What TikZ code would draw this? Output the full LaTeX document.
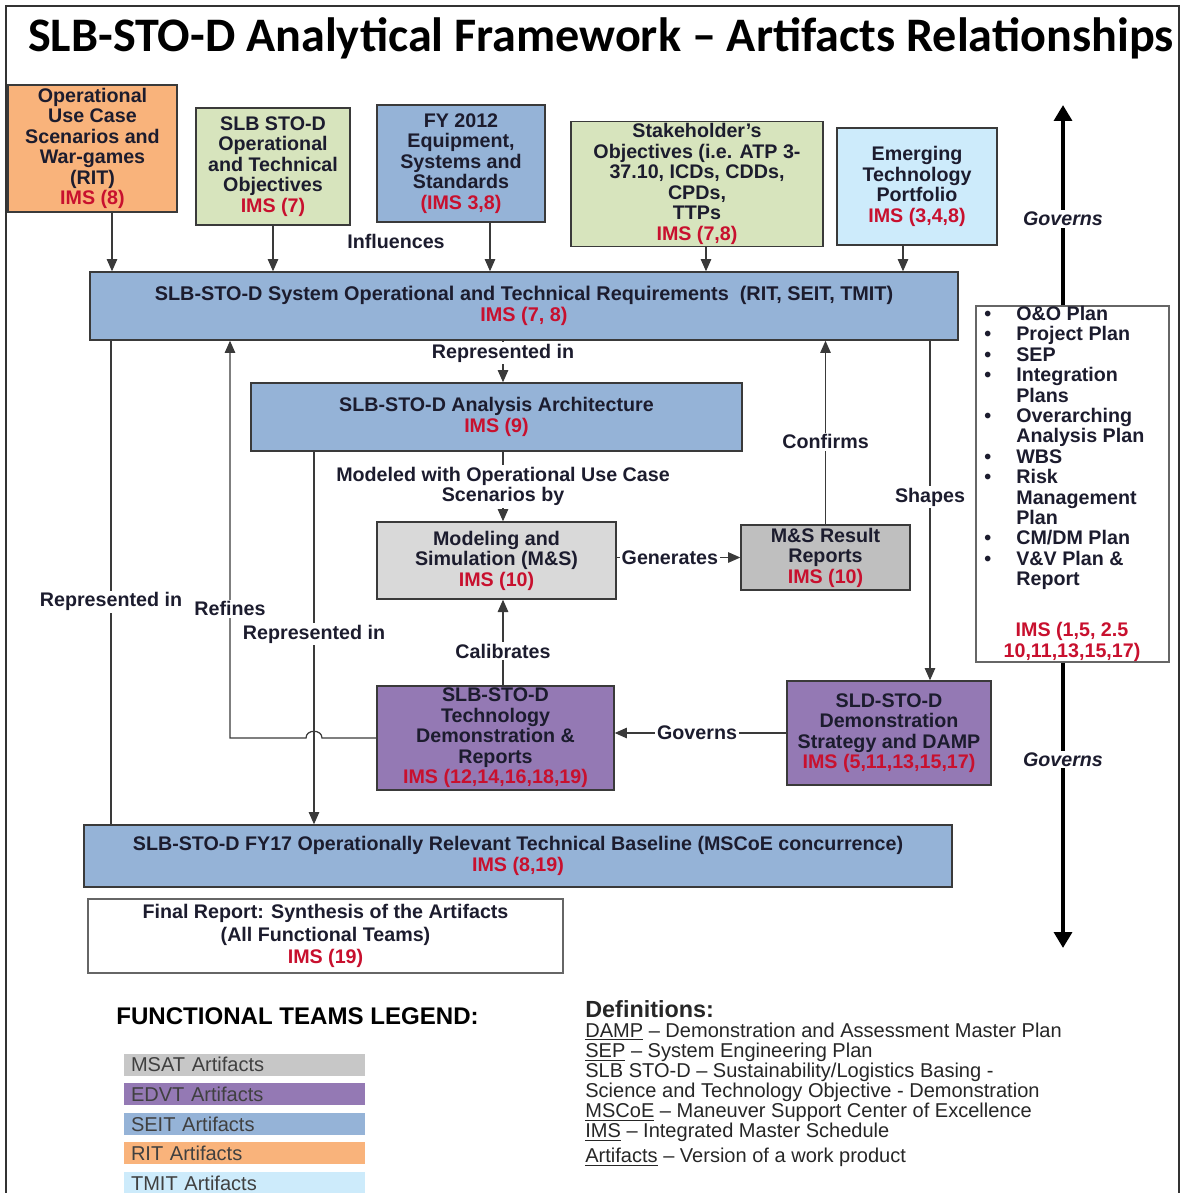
\documentclass[tikz,border=0pt]{standalone}
\usepackage{fontspec}
\setmainfont{Liberation Sans}
\newfontfamily\titlefont{Carlito}
\usetikzlibrary{
    arrows.meta,
    positioning,
    calc
}

\definecolor{ritorange}{HTML}{F9B37B}
\definecolor{objgreen}{HTML}{D7E4BD}
\definecolor{seitblue}{HTML}{95B3D7}
\definecolor{tmitblue}{HTML}{CDEBFB}
\definecolor{edvtpurple}{HTML}{9479B4}
\definecolor{msatgray}{HTML}{D9D9D9}
\definecolor{resgray}{HTML}{BFBFBF}
\definecolor{imsred}{HTML}{C8102E}
\definecolor{inktext}{HTML}{1C1C2E}
\definecolor{linegray}{HTML}{3A3A3A}

\newcommand{\ims}[1]{\textcolor{imsred}{#1}}
\newcommand{\planbullet}{\makebox[0.64cm][l]{\textbullet}}

\begin{document}
\begin{tikzpicture}[x=0.02cm, y=-0.02cm,
    box/.style={draw=linegray, line width=0.8pt, align=center, inner sep=1pt, text=inktext,
        font=\fontsize{11.2}{11.7}\selectfont\bfseries},
    conn/.style={draw=linegray, line width=0.7pt},
    arr/.style={conn, -{Triangle[width=6pt, length=7pt]}},
    lbl/.style={fill=white, inner sep=1pt, align=center, text=inktext,
        font=\fontsize{11.2}{11.7}\selectfont\bfseries},
    govlbl/.style={lbl, font=\fontsize{11.2}{11.7}\selectfont\bfseries\itshape},
    govarrow/.style={draw=black, line width=2.3pt, -{Triangle[width=10pt, length=9pt]}},
    legbar/.style={minimum width=4.82cm, minimum height=0.44cm, inner xsep=0.14cm, inner ysep=0pt,
        text width=4.54cm, align=left, text=black!75, font=\fontsize{11.4}{12}\selectfont}
]
    \useasboundingbox (0,0) rectangle (1184,1193);
    \clip (0,0) rectangle (1184,1193);

    % frame and title
    \draw[line width=1.2pt, black!80] (6,1200) -- (6,6) -- (1179,6) -- (1179,1200);
    \node[font=\titlefont\bfseries\fontsize{27.4}{31}\selectfont] (title) at (601,38)
        {SLB-STO-D Analytical Framework – Artifacts Relationships};

    % input artifacts
    \node[box, fill=ritorange, minimum width=3.38cm, minimum height=2.54cm] (rit) at (92.5,148.5)
        {Operational\\Use Case\\Scenarios and\\War-games\\(RIT)\\\ims{IMS (8)}};
    \node[box, fill=objgreen, minimum width=3.08cm, minimum height=2.34cm] (sto) at (273,166.5)
        {SLB STO-D\\Operational\\and Technical\\Objectives\\\ims{IMS (7)}};
    \node[box, fill=seitblue, minimum width=3.36cm, minimum height=2.34cm] (fy) at (461,163.5)
        {FY 2012\\Equipment,\\Systems and\\Standards\\\ims{(IMS 3,8)}};
    \node[box, fill=objgreen, minimum width=5.04cm, minimum height=2.36cm] (stake) at (697,184)
        {Stakeholder's\\Objectives (i.e. ATP 3-\\37.10, ICDs, CDDs,\\CPDs,\\TTPs\\\ims{IMS (7,8)}};
    \node[box, fill=tmitblue, minimum width=3.2cm, minimum height=2.34cm] (emerg) at (917,186.5)
        {Emerging\\Technology\\Portfolio\\\ims{IMS (3,4,8)}};

    % requirements and architecture
    \node[box, fill=seitblue, minimum width=17.36cm, minimum height=1.36cm,
        font=\fontsize{11.3}{11.7}\selectfont\bfseries] (req) at (524,306)
        {SLB-STO-D System Operational and Technical Requirements~~(RIT, SEIT, TMIT)\\\ims{IMS (7, 8)}};
    \node[box, fill=seitblue, minimum width=9.82cm, minimum height=1.36cm] (arch) at (496.5,417)
        {SLB-STO-D Analysis Architecture\\\ims{IMS (9)}};

    % modeling and demonstration
    \node[box, fill=msatgray, minimum width=4.78cm, minimum height=1.54cm] (ms) at (496.5,560.5)
        {Modeling and\\Simulation (M\&S)\\\ims{IMS (10)}};
    \node[box, fill=resgray, minimum width=3.38cm, minimum height=1.3cm] (res) at (825.5,557.5)
        {M\&S Result\\Reports\\\ims{IMS (10)}};
    \node[box, fill=edvtpurple, minimum width=4.74cm, minimum height=2.08cm] (tech) at (495.5,738)
        {SLB-STO-D\\Technology\\Demonstration \&\\Reports\\\ims{IMS (12,14,16,18,19)}};
    \node[box, fill=edvtpurple, minimum width=4.08cm, minimum height=2.08cm] (sld) at (889,733)
        {SLD-STO-D\\Demonstration\\Strategy and DAMP\\\ims{IMS (5,11,13,15,17)}};

    % baseline and final report
    \node[box, fill=seitblue, minimum width=17.36cm, minimum height=1.24cm] (base) at (518,856)
        {SLB-STO-D FY17 Operationally Relevant Technical Baseline (MSCoE concurrence)\\\ims{IMS (8,19)}};
    \node[box, fill=white, draw=black!60, minimum width=9.5cm, minimum height=1.48cm,
        font=\fontsize{11.2}{13}\selectfont\bfseries] (final) at (325.5,936)
        {Final Report: Synthesis of the Artifacts\\(All Functional Teams)\\\ims{IMS (19)}};

    % plans box
    \node[box, fill=white, draw=black!60, minimum width=3.86cm, minimum height=7.12cm] (plans) at (1072.5,484) {};
    \node[anchor=north west, inner sep=0pt, align=left, text=inktext,
        font=\fontsize{11.2}{11.6}\selectfont\bfseries] (planlist) at (984,306)
        {\planbullet O\&O Plan\\
         \planbullet Project Plan\\
         \planbullet SEP\\
         \planbullet Integration\\
         \hspace*{0.64cm}Plans\\
         \planbullet Overarching\\
         \hspace*{0.64cm}Analysis Plan\\
         \planbullet WBS\\
         \planbullet Risk\\
         \hspace*{0.64cm}Management\\
         \hspace*{0.64cm}Plan\\
         \planbullet CM/DM Plan\\
         \planbullet V\&V Plan \&\\
         \hspace*{0.64cm}Report};
    \node[align=center, inner sep=0pt, text=imsred,
        font=\fontsize{11.2}{11.6}\selectfont\bfseries] (planims) at (1072,642)
        {IMS (1,5, 2.5\\10,11,13,15,17)};

    % columns for vertical connectors
    \coordinate (midcol) at (503,0);
    \coordinate (leftcol) at (111,0);
    \coordinate (refcol) at (230,0);
    \coordinate (repcol) at (314,0);
    \coordinate (shapecol) at (930,0);
    \coordinate (govcol) at (1063,0);
    \coordinate (ritout) at ($(rit.south)+(19.5,0)$);
    \coordinate (fyout) at ($(fy.south)+(29,0)$);
    \coordinate (stakeout) at ($(stake.south)+(9,0)$);
    \coordinate (emergout) at ($(emerg.south)+(-14,0)$);
    \coordinate (govtop) at (1063,105);
    \coordinate (govbot) at (1063,948);

    % inputs to requirements
    \draw[arr] (ritout) -- (ritout |- req.north);
    \draw[arr] (sto.south) -- (sto.south |- req.north);
    \draw[arr] (fyout) -- (fyout |- req.north);
    \draw[arr] (stakeout) -- (stakeout |- req.north);
    \draw[arr] (emergout) -- (emergout |- req.north);
    \node[lbl, fill=none] (influences) at (396,241) {Influences};

    % requirements down the middle
    \draw[arr] (req.south -| midcol) -- (arch.north -| midcol) node[lbl, pos=0.3] {Represented in};
    \draw[arr] (arch.south -| midcol) -- (ms.north -| midcol)
        node[lbl, pos=0.5] {Modeled with Operational Use Case\\Scenarios by};
    \draw[arr] (ms.east |- res.west) -- (res.west) node[lbl, pos=0.43] {Generates};
    \draw[arr] (res.north) -- (res.north |- req.south) node[lbl, pos=0.45] {Confirms};
    \draw[arr] (req.south -| shapecol) -- (sld.north -| shapecol) node[lbl, pos=0.46] {Shapes};
    \draw[arr] (tech.north -| midcol) -- (ms.south -| midcol) node[lbl, pos=0.4] {Calibrates};
    \draw[arr] (sld.west) -- (sld.west -| tech.east) node[lbl, pos=0.52] {Governs};

    % refines loop with a hop over the represented-in line
    \coordinate (hopR) at ($(repcol |- tech.west)+(8,0)$);
    \coordinate (hopL) at ($(repcol |- tech.west)+(-8,0)$);
    \draw[arr] (tech.west) -- (hopR) .. controls +(0,-9) and +(0,-9) .. (hopL)
        -- (refcol |- tech.west) -- (refcol |- req.south) node[lbl, pos=0.325] {Refines};

    % down to the baseline
    \draw[conn] (leftcol |- req.south) -- (leftcol |- base.north) node[lbl, pos=0.54] {Represented in};
    \draw[arr] (repcol |- arch.south) -- (repcol |- base.north) node[lbl, pos=0.49] {Represented in};

    % governs arrows
    \draw[govarrow] (govcol |- plans.north) -- (govtop) node[govlbl, pos=0.43] {Governs};
    \draw[govarrow] (govcol |- plans.south) -- (govbot) node[govlbl, pos=0.34] {Governs};

    % legend
    \node[anchor=west, inner sep=0pt, font=\fontsize{13.7}{15}\selectfont\bfseries] (legtitle) at (116,1016)
        {FUNCTIONAL TEAMS LEGEND:};
    \node[legbar, fill=black!22] (msatleg) at (244.5,1064.5) {MSAT Artifacts};
    \node[legbar, fill=edvtpurple] (edvtleg) at (244.5,1094) {EDVT Artifacts};
    \node[legbar, fill=seitblue] (seitleg) at (244.5,1124) {SEIT Artifacts};
    \node[legbar, fill=ritorange] (ritleg) at (244.5,1153) {RIT Artifacts};
    \node[legbar, fill=tmitblue] (tmitleg) at (244.5,1183) {TMIT Artifacts};

    % definitions
    \node[anchor=north west, inner sep=0pt, align=left, text=black!85,
        font=\fontsize{11.4}{11.4}\selectfont] (defs) at (585,1000)
        {{\fontsize{13.3}{14}\selectfont\bfseries Definitions:}\\
         \underline{DAMP} – Demonstration and Assessment Master Plan\\
         \underline{SEP} – System Engineering Plan\\
         SLB STO-D – Sustainability/Logistics Basing -\\
         Science and Technology Objective - Demonstration\\
         \underline{MSCoE} – Maneuver Support Center of Excellence\\
         \underline{IMS} – Integrated Master Schedule\\[3pt]
         \underline{Artifacts} – Version of a work product};
\end{tikzpicture}
\end{document}
